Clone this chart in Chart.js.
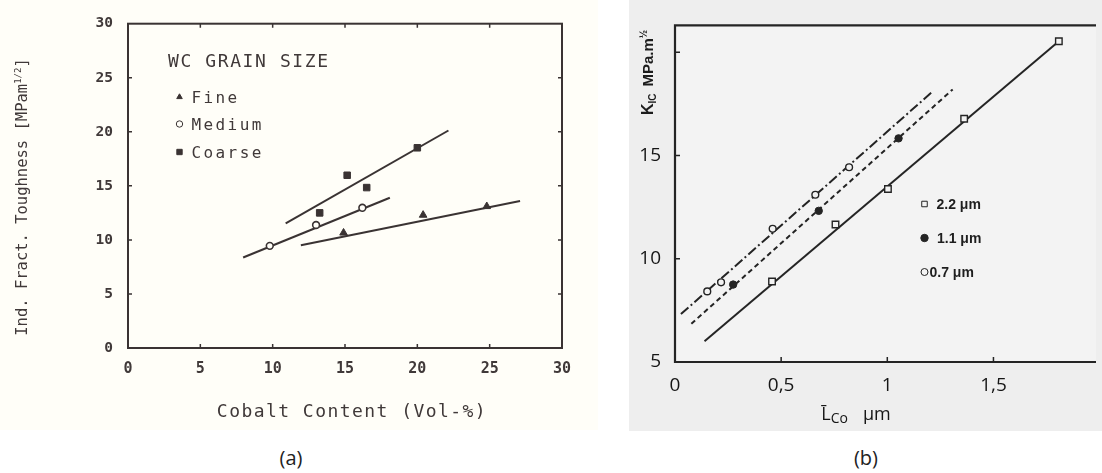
<!DOCTYPE html>
<html><head><meta charset="utf-8">
<script src="https://cdn.jsdelivr.net/npm/chart.js@4.4.1/dist/chart.umd.min.js"></script>
<style>
html,body{margin:0;padding:0;background:#fff;width:1102px;height:473px;overflow:hidden;}
#bgA{position:absolute;left:0;top:0;width:598px;height:430px;background:#fffef8;}
#bgB{position:absolute;left:629px;top:0;width:473px;height:431px;background:#eeeeee;}
#wrapA{position:absolute;left:0;top:0;width:600px;height:440px;}
#wrapB{position:absolute;left:600px;top:0;width:502px;height:440px;}
.cap{position:absolute;top:444px;font:20px "Open Sans",sans-serif;color:#222;width:60px;text-align:center;line-height:27px;}
</style></head><body>
<div id="bgA"></div><div id="bgB"></div>
<div id="wrapA"><canvas id="cA" width="600" height="440"></canvas></div>
<div id="wrapB"><canvas id="cB" width="502" height="440"></canvas></div>
<div class="cap" style="left:261px">(a)</div>
<div class="cap" style="left:836px">(b)</div>
<script>
// ---------------- data: chart (a) ----------------
const cobaltTicks = [0, 5, 10, 15, 20, 25, 30];
const toughTicks = [0, 5, 10, 15, 20, 25, 30];
const fineCo = [14.9, 20.4, 24.8];
const fineK = [10.65, 12.3, 13.1];
const fineFitCo = [11.95, 27.1];
const fineFitK = [9.5, 13.6];
const mediumCo = [9.8, 13.0, 16.2];
const mediumK = [9.45, 11.38, 12.97];
const mediumFitCo = [7.96, 18.1];
const mediumFitK = [8.37, 13.9];
const coarseCo = [13.25, 15.15, 16.5, 20.0];
const coarseK = [12.5, 15.98, 14.84, 18.52];
const coarseFitCo = [10.9, 22.15];
const coarseFitK = [11.53, 20.12];
const legendTitleA = 'WC GRAIN SIZE';
const legendA = ['Fine', 'Medium', 'Coarse'];

// ---------------- data: chart (b) ----------------
const xTickValuesB = [0, 0.5, 1, 1.5];
const xTickLabelsB = ['0', '0,5', '1', '1,5'];
const yTickValuesB = [5, 10, 15, 20];
const yTickLabelsB = ['5', '10', '15', ''];
const lco22 = [0.457, 0.756, 1.003, 1.362, 1.808];
const k22 = [8.90, 11.66, 13.38, 16.78, 20.53];
const fit22L = [0.139, 1.808];
const fit22K = [6.0, 20.53];
const lco11 = [0.274, 0.677, 1.053];
const k11 = [8.75, 12.32, 15.83];
const fit11L = [0.077, 1.308];
const fit11K = [6.85, 18.2];
const lco07 = [0.152, 0.217, 0.46, 0.661, 0.82];
const k07 = [8.42, 8.86, 11.45, 13.10, 14.43];
const fit07L = [0.028, 1.208];
const fit07K = [7.32, 18.05];
const legendB = ['2.2 \u03bcm', '1.1 \u03bcm', '0.7 \u03bcm'];

// ---------------- helpers ----------------
const pts = (xs, ys) => xs.map((x, i) => ({x: x, y: ys[i]}));

function drawRich(ctx, segs, cx, cy, angle, color, base, align) {
  ctx.save();
  ctx.translate(cx, cy);
  ctx.rotate(angle);
  ctx.fillStyle = color;
  ctx.textBaseline = 'alphabetic';
  ctx.textAlign = 'left';
  let total = 0;
  const ws = segs.map(s => {
    ctx.font = s.font;
    ctx.letterSpacing = (s.ls || 0) + 'px';
    const w = ctx.measureText(s.text).width;
    total += w + (s.gap || 0);
    return w;
  });
  let x = align === 'left' ? 0 : -total / 2;
  segs.forEach((s, i) => {
    ctx.font = s.font;
    ctx.letterSpacing = (s.ls || 0) + 'px';
    x += (s.gap || 0);
    ctx.fillText(s.text, x, base + (s.dy || 0));
    x += ws[i];
  });
  ctx.restore();
}

// ---------------- chart (a) ----------------
const inkA = '#3a3333', textA = '#403939', paperA = '#fffef8';
const monoA = '"DejaVu Sans Mono", "Liberation Mono", monospace';

const frameA = {
  id: 'frameA',
  afterDraw(chart) {
    const ctx = chart.ctx, a = chart.chartArea, xs = chart.scales.x, ys = chart.scales.y;
    ctx.save();
    ctx.strokeStyle = inkA;
    ctx.lineWidth = 2;
    ctx.strokeRect(a.left, a.top, a.right - a.left, a.bottom - a.top);
    ctx.lineWidth = 1.5;
    ctx.beginPath();
    cobaltTicks.slice(1, -1).forEach(v => {
      const px = xs.getPixelForValue(v);
      ctx.moveTo(px, a.bottom); ctx.lineTo(px, a.bottom - 4);
      ctx.moveTo(px, a.top); ctx.lineTo(px, a.top + 4);
    });
    toughTicks.slice(1, -1).forEach(v => {
      const py = ys.getPixelForValue(v);
      ctx.moveTo(a.left, py); ctx.lineTo(a.left + 4, py);
      ctx.moveTo(a.right, py); ctx.lineTo(a.right - 4, py);
    });
    ctx.stroke();
    ctx.restore();

    // axis titles
    drawRich(ctx, [
      {text: 'Ind. Fract. Toughness [MPam', font: '15.5px ' + monoA},
      {text: '1/2', font: '9px ' + monoA, dy: -6},
      {text: ']', font: '15.5px ' + monoA}
    ], 21, 197, -Math.PI / 2, textA, 5.5);
    drawRich(ctx, [
      {text: 'Cobalt Content (Vol-%)', font: '18px ' + monoA, ls: 1.45}
    ], 352, 410, 0, textA, 6.5);

    // in-plot legend
    drawRich(ctx, [{text: legendTitleA, font: '18px ' + monoA, ls: 1.6}], 168, 60, 0, textA, 6.5, 'left');
    const styles = ['triangle', 'circle', 'rect'];
    const rows = [97, 124, 152];
    legendA.forEach((lab, i) => {
      ctx.save();
      ctx.strokeStyle = inkA;
      ctx.fillStyle = styles[i] === 'circle' ? paperA : inkA;
      Chart.helpers.drawPoint(ctx, {pointStyle: styles[i], radius: styles[i] === 'rect' ? 3.8 : 3.2, rotation: 0, borderWidth: 1.3}, 179.5, rows[i]);
      ctx.restore();
      drawRich(ctx, [{text: lab, font: '16px ' + monoA, ls: 2.4}], 191.5, rows[i], 0, textA, 5.8, 'left');
    });
  }
};

new Chart(document.getElementById('cA'), {
  type: 'scatter',
  data: {datasets: [
    {data: pts(fineCo, fineK), pointStyle: 'triangle', pointRadius: 4.4, backgroundColor: inkA, borderColor: inkA, borderWidth: 1},
    {data: pts(mediumCo, mediumK), pointStyle: 'circle', pointRadius: 3.4, backgroundColor: paperA, borderColor: inkA, borderWidth: 1.6},
    {data: pts(coarseCo, coarseK), pointStyle: 'rect', pointRadius: 4.6, backgroundColor: inkA, borderColor: inkA, borderWidth: 1},
    {data: pts(fineFitCo, fineFitK), showLine: true, pointRadius: 0, borderColor: inkA, borderWidth: 2},
    {data: pts(mediumFitCo, mediumFitK), showLine: true, pointRadius: 0, borderColor: inkA, borderWidth: 2},
    {data: pts(coarseFitCo, coarseFitK), showLine: true, pointRadius: 0, borderColor: inkA, borderWidth: 2}
  ]},
  options: {
    responsive: false, animation: false, events: [],
    layout: {padding: {left: 0, top: 21, right: 38, bottom: 0}},
    plugins: {legend: {display: false}, tooltip: {enabled: false}},
    scales: {
      x: {
        type: 'linear', min: 0, max: 30,
        afterBuildTicks: s => { s.ticks = cobaltTicks.map(v => ({value: v})); },
        ticks: {font: {family: monoA, size: 15, weight: 'bold'}, color: textA, padding: 12, maxRotation: 0, autoSkip: false},
        grid: {display: false, drawTicks: false, tickLength: 0},
        border: {display: false},
        afterFit: s => { s.height = 92; }
      },
      y: {
        type: 'linear', min: 0, max: 30,
        afterBuildTicks: s => { s.ticks = toughTicks.map(v => ({value: v})); },
        ticks: {font: {family: monoA, size: 14.5, weight: 'bold'}, color: textA, padding: 15, autoSkip: false},
        grid: {display: false, drawTicks: false, tickLength: 0},
        border: {display: false},
        afterFit: s => { s.width = 128; }
      }
    }
  },
  plugins: [frameA]
});

// ---------------- chart (b) ----------------
const inkB = '#242424', textB = '#161616', paperB = '#f3f3f3';
const sansB = '"Open Sans", "Noto Sans", sans-serif';
const boldB = '"Liberation Sans", Arial, sans-serif';

const frameB = {
  id: 'frameB',
  beforeDraw(chart) {
    const ctx = chart.ctx, a = chart.chartArea;
    ctx.save();
    ctx.fillStyle = paperB;
    ctx.fillRect(a.left, a.top, a.right - a.left, a.bottom - a.top);
    ctx.restore();
  },
  afterDraw(chart) {
    const ctx = chart.ctx, a = chart.chartArea, xs = chart.scales.x, ys = chart.scales.y;
    ctx.save();
    ctx.strokeStyle = inkB;
    ctx.lineWidth = 2.2;
    ctx.beginPath();
    ctx.moveTo(a.right, a.top); ctx.lineTo(a.left, a.top); ctx.lineTo(a.left, a.bottom); ctx.lineTo(a.right, a.bottom);
    ctx.stroke();
    ctx.lineWidth = 1.5;
    ctx.beginPath();
    xTickValuesB.slice(1).forEach(v => {
      const px = xs.getPixelForValue(v);
      ctx.moveTo(px, a.bottom); ctx.lineTo(px, a.bottom - 5);
    });
    yTickValuesB.slice(1).forEach(v => {
      const py = ys.getPixelForValue(v);
      ctx.moveTo(a.left, py); ctx.lineTo(a.left + 5, py);
    });
    ctx.stroke();
    ctx.restore();

    // y title: K_IC MPa.m^1/2
    drawRich(ctx, [
      {text: 'K', font: 'bold 16px ' + boldB},
      {text: 'IC', font: 'bold 10px ' + boldB, dy: 3},
      {text: 'MPa.m', font: 'bold 15px ' + boldB, gap: 7},
      {text: '\u00bd', font: 'bold 10px ' + boldB, dy: -6}
    ], 47.5, 72.5, -Math.PI / 2, '#1c1c1c', 5.5);

    // x title: L̄_Co μm
    drawRich(ctx, [
      {text: 'L\u0304', font: '18px ' + sansB},
      {text: 'Co', font: '14px ' + sansB, dy: 3},
      {text: '\u03bcm', font: '18px ' + sansB, gap: 15}
    ], 256, 415, 0, textB, 5);

    // legend
    const styles = [
      {pointStyle: 'rect', radius: 3.9, fill: paperB},
      {pointStyle: 'circle', radius: 3.7, fill: inkB},
      {pointStyle: 'circle', radius: 3.5, fill: paperB}
    ];
    const rows = [204, 238, 272];
    const textX = [336.5, 337, 329.5];
    legendB.forEach((lab, i) => {
      ctx.save();
      ctx.strokeStyle = inkB;
      ctx.fillStyle = styles[i].fill;
      Chart.helpers.drawPoint(ctx, {pointStyle: styles[i].pointStyle, radius: styles[i].radius, rotation: 0, borderWidth: 1.5}, 324.5, rows[i]);
      ctx.restore();
      drawRich(ctx, [{text: lab, font: 'bold 14px ' + boldB}], textX[i], rows[i], 0, '#1e1e1e', 5, 'left');
    });
  }
};

new Chart(document.getElementById('cB'), {
  type: 'scatter',
  data: {datasets: [
    {data: pts(lco22, k22), pointStyle: 'rect', pointRadius: 4.6, backgroundColor: paperB, borderColor: inkB, borderWidth: 1.4},
    {data: pts(lco11, k11), pointStyle: 'circle', pointRadius: 3.7, backgroundColor: inkB, borderColor: inkB, borderWidth: 1},
    {data: pts(lco07, k07), pointStyle: 'circle', pointRadius: 3.4, backgroundColor: paperB, borderColor: inkB, borderWidth: 1.4},
    {data: pts(fit22L, fit22K), showLine: true, pointRadius: 0, borderColor: inkB, borderWidth: 2},
    {data: pts(fit11L, fit11K), showLine: true, pointRadius: 0, borderColor: inkB, borderWidth: 2, borderDash: [5, 3.5]},
    {data: pts(fit07L, fit07K), showLine: true, pointRadius: 0, borderColor: inkB, borderWidth: 2, borderDash: [10, 3, 2, 3]}
  ]},
  options: {
    responsive: false, animation: false, events: [],
    layout: {padding: {left: 0, top: 16, right: 0, bottom: 0}},
    plugins: {legend: {display: false}, tooltip: {enabled: false}},
    scales: {
      x: {
        type: 'linear', min: 0, max: 1.983,
        afterBuildTicks: s => { s.ticks = xTickValuesB.map(v => ({value: v})); },
        ticks: {font: {family: sansB, size: 19}, color: textB, padding: 12, maxRotation: 0, autoSkip: false,
          callback: (v, i) => xTickLabelsB[i]},
        grid: {display: false, drawTicks: false, tickLength: 0},
        border: {display: false},
        afterFit: s => { s.height = 78; }
      },
      y: {
        type: 'linear', min: 5, max: 21.3,
        afterBuildTicks: s => { s.ticks = yTickValuesB.map(v => ({value: v})); },
        ticks: {font: {family: sansB, size: 19}, color: textB, padding: 14, autoSkip: false,
          callback: (v, i) => yTickLabelsB[i]},
        grid: {display: false, drawTicks: false, tickLength: 0},
        border: {display: false},
        afterFit: s => { s.width = 75; }
      }
    }
  },
  plugins: [frameB]
});
</script>
</body></html>
